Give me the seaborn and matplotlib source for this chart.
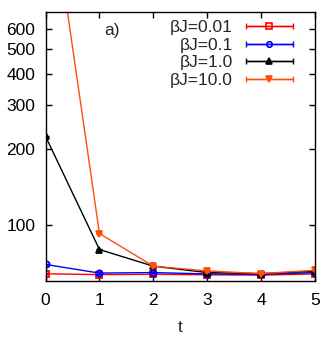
import numpy as np
import pandas as pd
import matplotlib
matplotlib.use("Agg")
import matplotlib.pyplot as plt
import seaborn as sns
from matplotlib.lines import Line2D
from matplotlib.collections import LineCollection
from matplotlib.container import ErrorbarContainer
from matplotlib.legend_handler import HandlerErrorbar
from matplotlib.ticker import FixedLocator, NullLocator, FixedFormatter

# ---- data ----
t = [0, 1, 2, 3, 4, 5]
labels = ["βJ=0.01", "βJ=0.1", "βJ=1.0", "βJ=10.0"]
vals_001 = [64.1, 63.6, 63.8, 63.5, 63.3, 64.0]
vals_01 = [69.8, 64.5, 64.8, 64.0, 63.7, 64.8]
vals_1 = [225.0, 80.0, 68.7, 64.8, 64.2, 65.6]
vals_10 = [2800.0, 92.6, 68.7, 65.8, 64.2, 66.2]
err_001 = [0.4, 0.4, 0.4, 0.4, 0.4, 0.4]
err_01 = [0.4, 0.4, 0.4, 0.4, 0.4, 0.4]
err_1 = [0.8, 0.6, 0.8, 0.5, 1.0, 0.6]
err_10 = [5.0, 0.6, 0.6, 0.5, 0.5, 0.5]
yticks = [100, 200, 300, 400, 500, 600]
xticks = [0, 1, 2, 3, 4, 5]

series = [vals_001, vals_01, vals_1, vals_10]
errs = [err_001, err_01, err_1, err_10]
colors = ["#ff0000", "#0000ff", "#000000", "#ff4d0d"]
markers = ["s", "o", "^", "v"]
mfcs = ["none", "none", None, None]

sns.set_style("ticks")
plt.rcParams["font.family"] = ["Liberation Sans", "DejaVu Sans"]
FS = 12.5

fig = plt.figure(figsize=(3.32, 3.39), dpi=100)
ax = fig.add_axes([0.1373, 0.1711, 0.9488 - 0.1373, 0.9637 - 0.1711])

df = pd.DataFrame({
    "t": t * 4,
    "val": sum(series, []),
    "err": sum(errs, []),
    "label": sum([[l] * len(t) for l in labels], []),
})

handles = []
for lab, col, mk, mfc in zip(labels, colors, markers, mfcs):
    sub = df[df["label"] == lab]
    kw = dict(mfc=mfc) if mfc else dict(mfc=col)
    sns.lineplot(data=sub, x="t", y="val", ax=ax, color=col, marker=mk,
                 markersize=4.5, markeredgewidth=1.3, markeredgecolor=col,
                 linewidth=1.0, legend=False, estimator=None, **kw)
    ax.errorbar(sub["t"], sub["val"], yerr=sub["err"], fmt="none",
                ecolor=col, elinewidth=1.0, capsize=2.5, capthick=1.0)
    # legend proxy (gnuplot style horizontal errorbar)
    pl = Line2D([], [], color=col, marker=mk, markersize=4,
                markeredgewidth=1.2, markeredgecolor=col, lw=1.0, **kw)
    cap = Line2D([], [], color=col, marker="|", markersize=5,
                 markeredgewidth=1.0, lw=0)
    lc = LineCollection([], colors=col, linewidths=1.0)
    handles.append(ErrorbarContainer((pl, (cap,), (lc,)), has_xerr=True,
                                     has_yerr=False, label=lab))

ax.set_yscale("log")
ax.set_ylim(60, 700)
ax.set_xlim(0, 5)
ax.yaxis.set_major_locator(FixedLocator(yticks))
ax.yaxis.set_major_formatter(FixedFormatter([str(v) for v in yticks]))
ax.yaxis.set_minor_locator(NullLocator())
ax.set_xticks(xticks)
ax.set_xticklabels([str(v) for v in xticks])
ax.tick_params(direction="in", length=4, width=1, top=True, right=True,
               labelsize=FS, colors="black")
ax.tick_params(axis="x", pad=8.5)
ax.tick_params(axis="y", pad=7.5)
for s in ax.spines.values():
    s.set_linewidth(1.0)
    s.set_color("black")
ax.set_xlabel("t", fontsize=FS, labelpad=9)
ax.set_ylabel("")

ax.text(0.245, 0.934, "a)", transform=ax.transAxes, fontsize=FS,
        ha="center", va="center")

hl = 2.74
leg = ax.legend(handles=handles, labels=labels, loc="upper right",
                bbox_to_anchor=(0.919, 0.972), frameon=False,
                markerfirst=False, handlelength=hl, handletextpad=0.73,
                labelspacing=0.145, borderpad=0, borderaxespad=0,
                fontsize=FS, numpoints=1,
                handler_map={ErrorbarContainer: HandlerErrorbar(xerr_size=hl / 2)})

fig.savefig("out.png", dpi=100)
